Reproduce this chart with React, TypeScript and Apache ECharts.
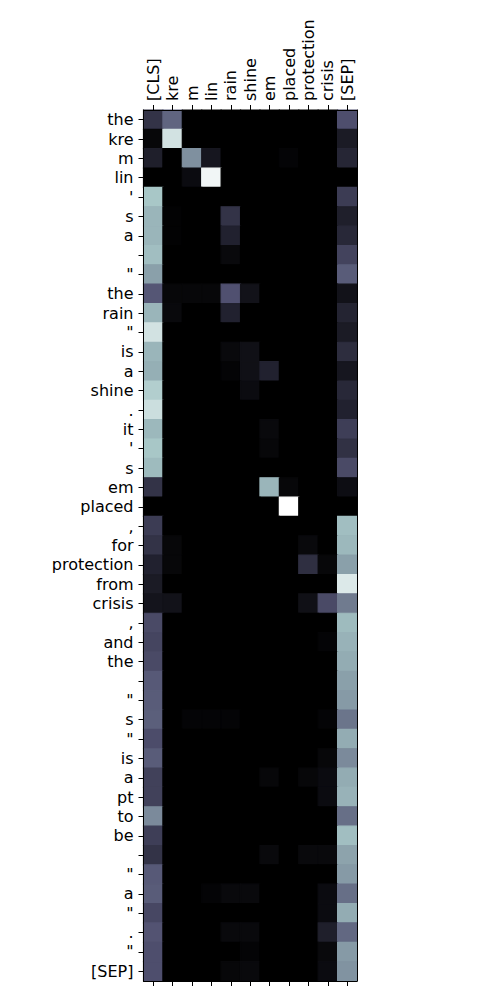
import React, { useEffect, useRef } from "react";
import * as echarts from "echarts";

const xLabels = ["[CLS]", "kre", "m", "lin", "rain", "shine", "em", "placed", "protection", "crisis", "[SEP]"];

const yLabels = [
  "the", "kre", "m", "lin", "'", "s", "a", "", "\"", "the", "rain", "\"", "is", "a", "shine", ".",
  "it", "'", "s", "em", "placed", ",", "for", "protection", "from", "crisis", ",", "and", "the", "",
  "\"", "s", "\"", "is", "a", "pt", "to", "be", "", "\"", "a", "\"", ".", "\"", "[SEP]",
];

// attention rows: columns follow xLabels
const attention: number[][] = [
  [0.23, 0.43, 0, 0, 0, 0, 0, 0, 0, 0, 0.35],
  [0.03, 0.87, 0, 0, 0, 0, 0, 0, 0, 0, 0.12],
  [0.14, 0, 0.57, 0.1, 0, 0, 0, 0.02, 0, 0, 0.17],
  [0, 0, 0.05, 0.96, 0, 0, 0, 0, 0, 0, 0],
  [0.75, 0, 0, 0, 0, 0, 0, 0, 0, 0, 0.27],
  [0.69, 0.01, 0, 0, 0.23, 0, 0, 0, 0, 0, 0.14],
  [0.69, 0.01, 0, 0, 0.15, 0, 0, 0, 0, 0, 0.18],
  [0.72, 0, 0, 0, 0.04, 0, 0, 0, 0, 0, 0.3],
  [0.62, 0, 0, 0, 0, 0, 0, 0, 0, 0, 0.4],
  [0.38, 0.03, 0.03, 0.03, 0.36, 0.08, 0, 0, 0, 0, 0.08],
  [0.69, 0.04, 0, 0, 0.15, 0, 0, 0, 0, 0, 0.16],
  [0.87, 0, 0, 0, 0, 0, 0, 0, 0, 0, 0.12],
  [0.69, 0, 0, 0, 0.04, 0.07, 0, 0, 0, 0, 0.2],
  [0.67, 0, 0, 0, 0.02, 0.07, 0.15, 0, 0, 0, 0.1],
  [0.78, 0, 0, 0, 0, 0.05, 0, 0, 0, 0, 0.18],
  [0.85, 0, 0, 0, 0, 0, 0, 0, 0, 0, 0.15],
  [0.7, 0, 0, 0, 0, 0, 0.04, 0, 0, 0, 0.28],
  [0.75, 0, 0, 0, 0, 0, 0.03, 0, 0, 0, 0.22],
  [0.71, 0, 0, 0, 0, 0, 0, 0, 0, 0, 0.33],
  [0.23, 0, 0, 0, 0, 0, 0.69, 0.03, 0, 0, 0.06],
  [0, 0, 0, 0, 0, 0, 0, 1.0, 0, 0, 0],
  [0.27, 0, 0, 0, 0, 0, 0, 0, 0, 0, 0.72],
  [0.23, 0.03, 0, 0, 0, 0, 0, 0, 0.04, 0, 0.7],
  [0.15, 0.03, 0, 0, 0, 0, 0, 0, 0.21, 0.03, 0.62],
  [0.12, 0, 0, 0, 0, 0, 0, 0, 0, 0, 0.9],
  [0.09, 0.08, 0, 0, 0, 0, 0, 0, 0.07, 0.33, 0.5],
  [0.33, 0, 0, 0, 0, 0, 0, 0, 0, 0, 0.71],
  [0.31, 0, 0, 0, 0, 0, 0, 0, 0, 0.02, 0.68],
  [0.33, 0, 0, 0, 0, 0, 0, 0, 0, 0, 0.66],
  [0.39, 0, 0, 0, 0, 0, 0, 0, 0, 0, 0.62],
  [0.4, 0, 0, 0, 0, 0, 0, 0, 0, 0, 0.6],
  [0.41, 0, 0.02, 0.02, 0.02, 0, 0, 0, 0, 0.02, 0.48],
  [0.34, 0, 0, 0, 0, 0, 0, 0, 0, 0, 0.66],
  [0.4, 0, 0, 0, 0, 0, 0, 0, 0, 0.03, 0.55],
  [0.29, 0, 0, 0, 0, 0, 0.03, 0, 0.03, 0.05, 0.66],
  [0.29, 0, 0, 0, 0, 0, 0, 0, 0, 0.05, 0.68],
  [0.55, 0, 0, 0, 0, 0, 0, 0, 0, 0, 0.46],
  [0.28, 0, 0, 0, 0, 0, 0, 0, 0, 0, 0.72],
  [0.23, 0, 0, 0, 0, 0, 0.04, 0, 0.04, 0.04, 0.63],
  [0.39, 0, 0, 0, 0, 0, 0, 0, 0, 0, 0.6],
  [0.4, 0, 0, 0.02, 0.04, 0.04, 0, 0, 0, 0.05, 0.46],
  [0.32, 0, 0, 0, 0, 0, 0, 0, 0, 0.05, 0.66],
  [0.37, 0, 0, 0, 0.04, 0.04, 0, 0, 0, 0.14, 0.44],
  [0.35, 0, 0, 0, 0, 0.02, 0, 0, 0, 0.04, 0.6],
  [0.35, 0, 0, 0, 0.03, 0.04, 0, 0, 0, 0.05, 0.58],
];

// matplotlib "bone" colormap segments
const boneSeg = {
  r: [[0, 0], [0.746032, 0.652778], [1, 1]],
  g: [[0, 0], [0.365079, 0.319444], [0.746032, 0.777778], [1, 1]],
  b: [[0, 0], [0.365079, 0.444444], [1, 1]],
};

function seg(points: number[][], t: number): number {
  for (let i = 1; i < points.length; i++) {
    if (t <= points[i][0]) {
      const [x0, y0] = points[i - 1];
      const [x1, y1] = points[i];
      return y0 + ((t - x0) / (x1 - x0)) * (y1 - y0);
    }
  }
  return points[points.length - 1][1];
}

function bone(t: number): string {
  const v = Math.max(0, Math.min(1, t));
  const r = Math.round(seg(boneSeg.r, v) * 255);
  const g = Math.round(seg(boneSeg.g, v) * 255);
  const b = Math.round(seg(boneSeg.b, v) * 255);
  return `rgb(${r},${g},${b})`;
}

const FONT = "DejaVu Sans";

export default function App() {
  const ref = useRef<HTMLDivElement>(null);
  useEffect(() => {
    if (!ref.current) return;
    const chart = echarts.init(ref.current, undefined, { renderer: "svg" });
    const data: number[][] = [];
    attention.forEach((row, y) => row.forEach((v, x) => data.push([x, y, v])));

    const axisLineStyle = { color: "#000", width: 1 };
    const labelStyle = { color: "#000", fontSize: 16, fontFamily: FONT };

    chart.setOption({
      animation: false,
      backgroundColor: "#fff",
      grid: {
        left: 143.5,
        top: 110,
        width: 213.5,
        height: 871,
        containLabel: false,
        show: true,
        backgroundColor: "#000",
        borderWidth: 0,
      },
      xAxis: [
        {
          type: "category",
          position: "top",
          data: xLabels,
          z: 10,
          axisLine: { show: true, lineStyle: axisLineStyle },
          axisTick: { show: true, alignWithLabel: true, length: 5, interval: 0, lineStyle: axisLineStyle },
          axisLabel: { ...labelStyle, rotate: -90, interval: 0, margin: 9 },
          splitLine: { show: false },
          splitArea: { show: false },
        },
        {
          type: "category",
          position: "bottom",
          data: xLabels,
          z: 10,
          axisLine: { show: true, lineStyle: axisLineStyle },
          axisTick: { show: true, alignWithLabel: true, length: 5, interval: 0, lineStyle: axisLineStyle },
          axisLabel: { show: false },
          splitLine: { show: false },
          splitArea: { show: false },
        },
      ],
      yAxis: [
        {
          type: "category",
          position: "left",
          inverse: true,
          data: yLabels,
          z: 10,
          axisLine: { show: true, lineStyle: axisLineStyle },
          axisTick: { show: true, alignWithLabel: true, length: 5, interval: 0, lineStyle: axisLineStyle },
          axisLabel: { ...labelStyle, interval: 0, margin: 10 },
          splitLine: { show: false },
          splitArea: { show: false },
        },
        {
          type: "category",
          position: "right",
          inverse: true,
          data: yLabels,
          z: 10,
          axisLine: { show: true, lineStyle: axisLineStyle },
          axisTick: { show: false },
          axisLabel: { show: false },
          splitLine: { show: false },
          splitArea: { show: false },
        },
      ],
      series: [
        {
          type: "custom",
          xAxisIndex: 0,
          yAxisIndex: 0,
          data,
          encode: { x: 0, y: 1 },
          renderItem: (params: any, api: any) => {
            const x = api.value(0);
            const y = api.value(1);
            const v = api.value(2);
            const p = api.coord([x, y]);
            const s = api.size([1, 1]);
            const c = bone(v);
            return {
              type: "rect",
              shape: { x: p[0] - s[0] / 2, y: p[1] - s[1] / 2, width: s[0], height: s[1] },
              style: { fill: c, stroke: c, lineWidth: 1.2 },
            };
          },
        },
      ],
    });
    return () => chart.dispose();
  }, []);
  return (
    <div
      ref={ref}
      style={{ position: "absolute", left: 0, top: 0, width: 500, height: 1000 }}
    />
  );
}
